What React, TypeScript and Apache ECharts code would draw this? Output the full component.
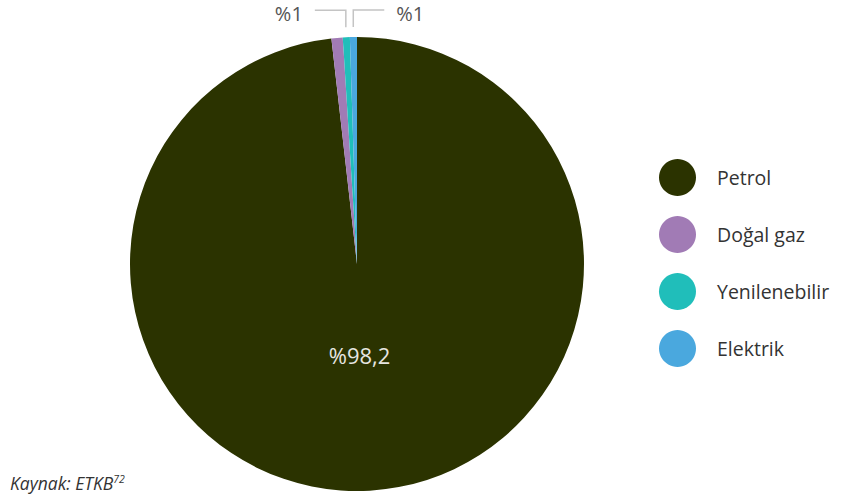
import React, { useEffect, useRef } from "react";
import * as echarts from "echarts";

const categories = ["Petrol", "Doğal gaz", "Yenilenebilir", "Elektrik"];
const values = [98.2, 0.8, 0.5, 0.5];
const colors = ["#2b3300", "#a17bb5", "#20beba", "#4aa8de"];
const labelTexts = ["%98,2", "", "%1", "%1"];
const sourceText = "Kaynak: ETKB";
const sourceNote = "72";

const FONT = "'Open Sans', Lato, sans-serif";

export default function App() {
  const ref = useRef<HTMLDivElement>(null);
  useEffect(() => {
    document.body.style.margin = "0";
    if (!ref.current) return;
    const chart = echarts.init(ref.current, undefined, { renderer: "svg" });
    const option = {
      animation: false,
      backgroundColor: "#ffffff",
      textStyle: { fontFamily: FONT },
      title: {
        text: `{a|${sourceText}}{s|${sourceNote}}`,
        left: 10,
        top: 473,
        padding: 0,
        textStyle: {
          fontWeight: "normal",
          rich: {
            a: { fontSize: 17.5, fontStyle: "italic", fontWeight: "normal", color: "#333", fontFamily: FONT },
            s: { fontSize: 10.5, fontStyle: "italic", fontWeight: "normal", color: "#333", fontFamily: FONT, verticalAlign: "top", padding: [0, 0, 9, 0] },
          },
        },
      },
      legend: {
        orient: "vertical",
        left: 659,
        top: 159,
        padding: 0,
        icon: "circle",
        itemWidth: 37,
        itemHeight: 37,
        itemGap: 20,
        textStyle: { fontSize: 19.5, color: "#333", fontFamily: FONT, padding: [0, 0, 0, 16] },
        data: categories.map((name, i) => ({ name, itemStyle: { color: colors[i] } })),
      },
      series: [
        {
          type: "pie",
          center: [357, 264],
          radius: 227,
          startAngle: 90,
          clockwise: true,
          avoidLabelOverlap: false,
          itemStyle: { borderWidth: 0 },
          emphasis: { disabled: true },
          label: {
            show: false,
            position: "inside",
            formatter: (p: any) => labelTexts[p.dataIndex],
            color: "#e6e6e0",
            fontSize: 22,
            fontFamily: FONT,
          },
          labelLayout: (p: any) => (p.dataIndex === 0 ? { dx: -4, dy: -25 } : {}),
          data: categories.map((name, i) => ({
            name,
            value: values[i],
            itemStyle: { color: colors[i] },
            label: { show: i === 0 },
          })),
        },
        {
          type: "pie",
          center: [357, 264],
          radius: 237,
          startAngle: 90,
          clockwise: true,
          silent: true,
          avoidLabelOverlap: false,
          itemStyle: { color: "transparent", borderWidth: 0 },
          label: {
            position: "outside",
            formatter: (p: any) => labelTexts[p.dataIndex],
            color: "#555",
            fontSize: 20,
            lineHeight: 20,
            fontFamily: FONT,
          },
          labelLine: {
            show: true,
            length: 17,
            length2: 31,
            lineStyle: { color: "#c4c4c4", width: 1.5 },
          },
          labelLayout: (params: any) => {
            const pts = params.labelLinePoints;
            if (!pts || !labelTexts[params.dataIndex] || params.dataIndex === 0) return {};
            const p0 = pts[0];
            const dir = params.dataIndex === 3 ? 1 : -1;
            const p1 = [p0[0], p0[1] - 17];
            const p2 = [p1[0] + dir * 31, p1[1]];
            return {
              x: p2[0] + dir * 12,
              y: p2[1] + 3,
              align: dir > 0 ? "left" : "right",
              verticalAlign: "middle",
              labelLinePoints: [p0, p1, p2],
            };
          },
          data: categories.map((name, i) => ({
            name,
            value: values[i],
            label: { show: i > 0 && !!labelTexts[i] },
            labelLine: { show: i > 0 && !!labelTexts[i] },
          })),
        },
      ],
    };
    chart.setOption(option as any);
    return () => chart.dispose();
  }, []);
  return <div ref={ref} style={{ width: 843, height: 497 }} />;
}
